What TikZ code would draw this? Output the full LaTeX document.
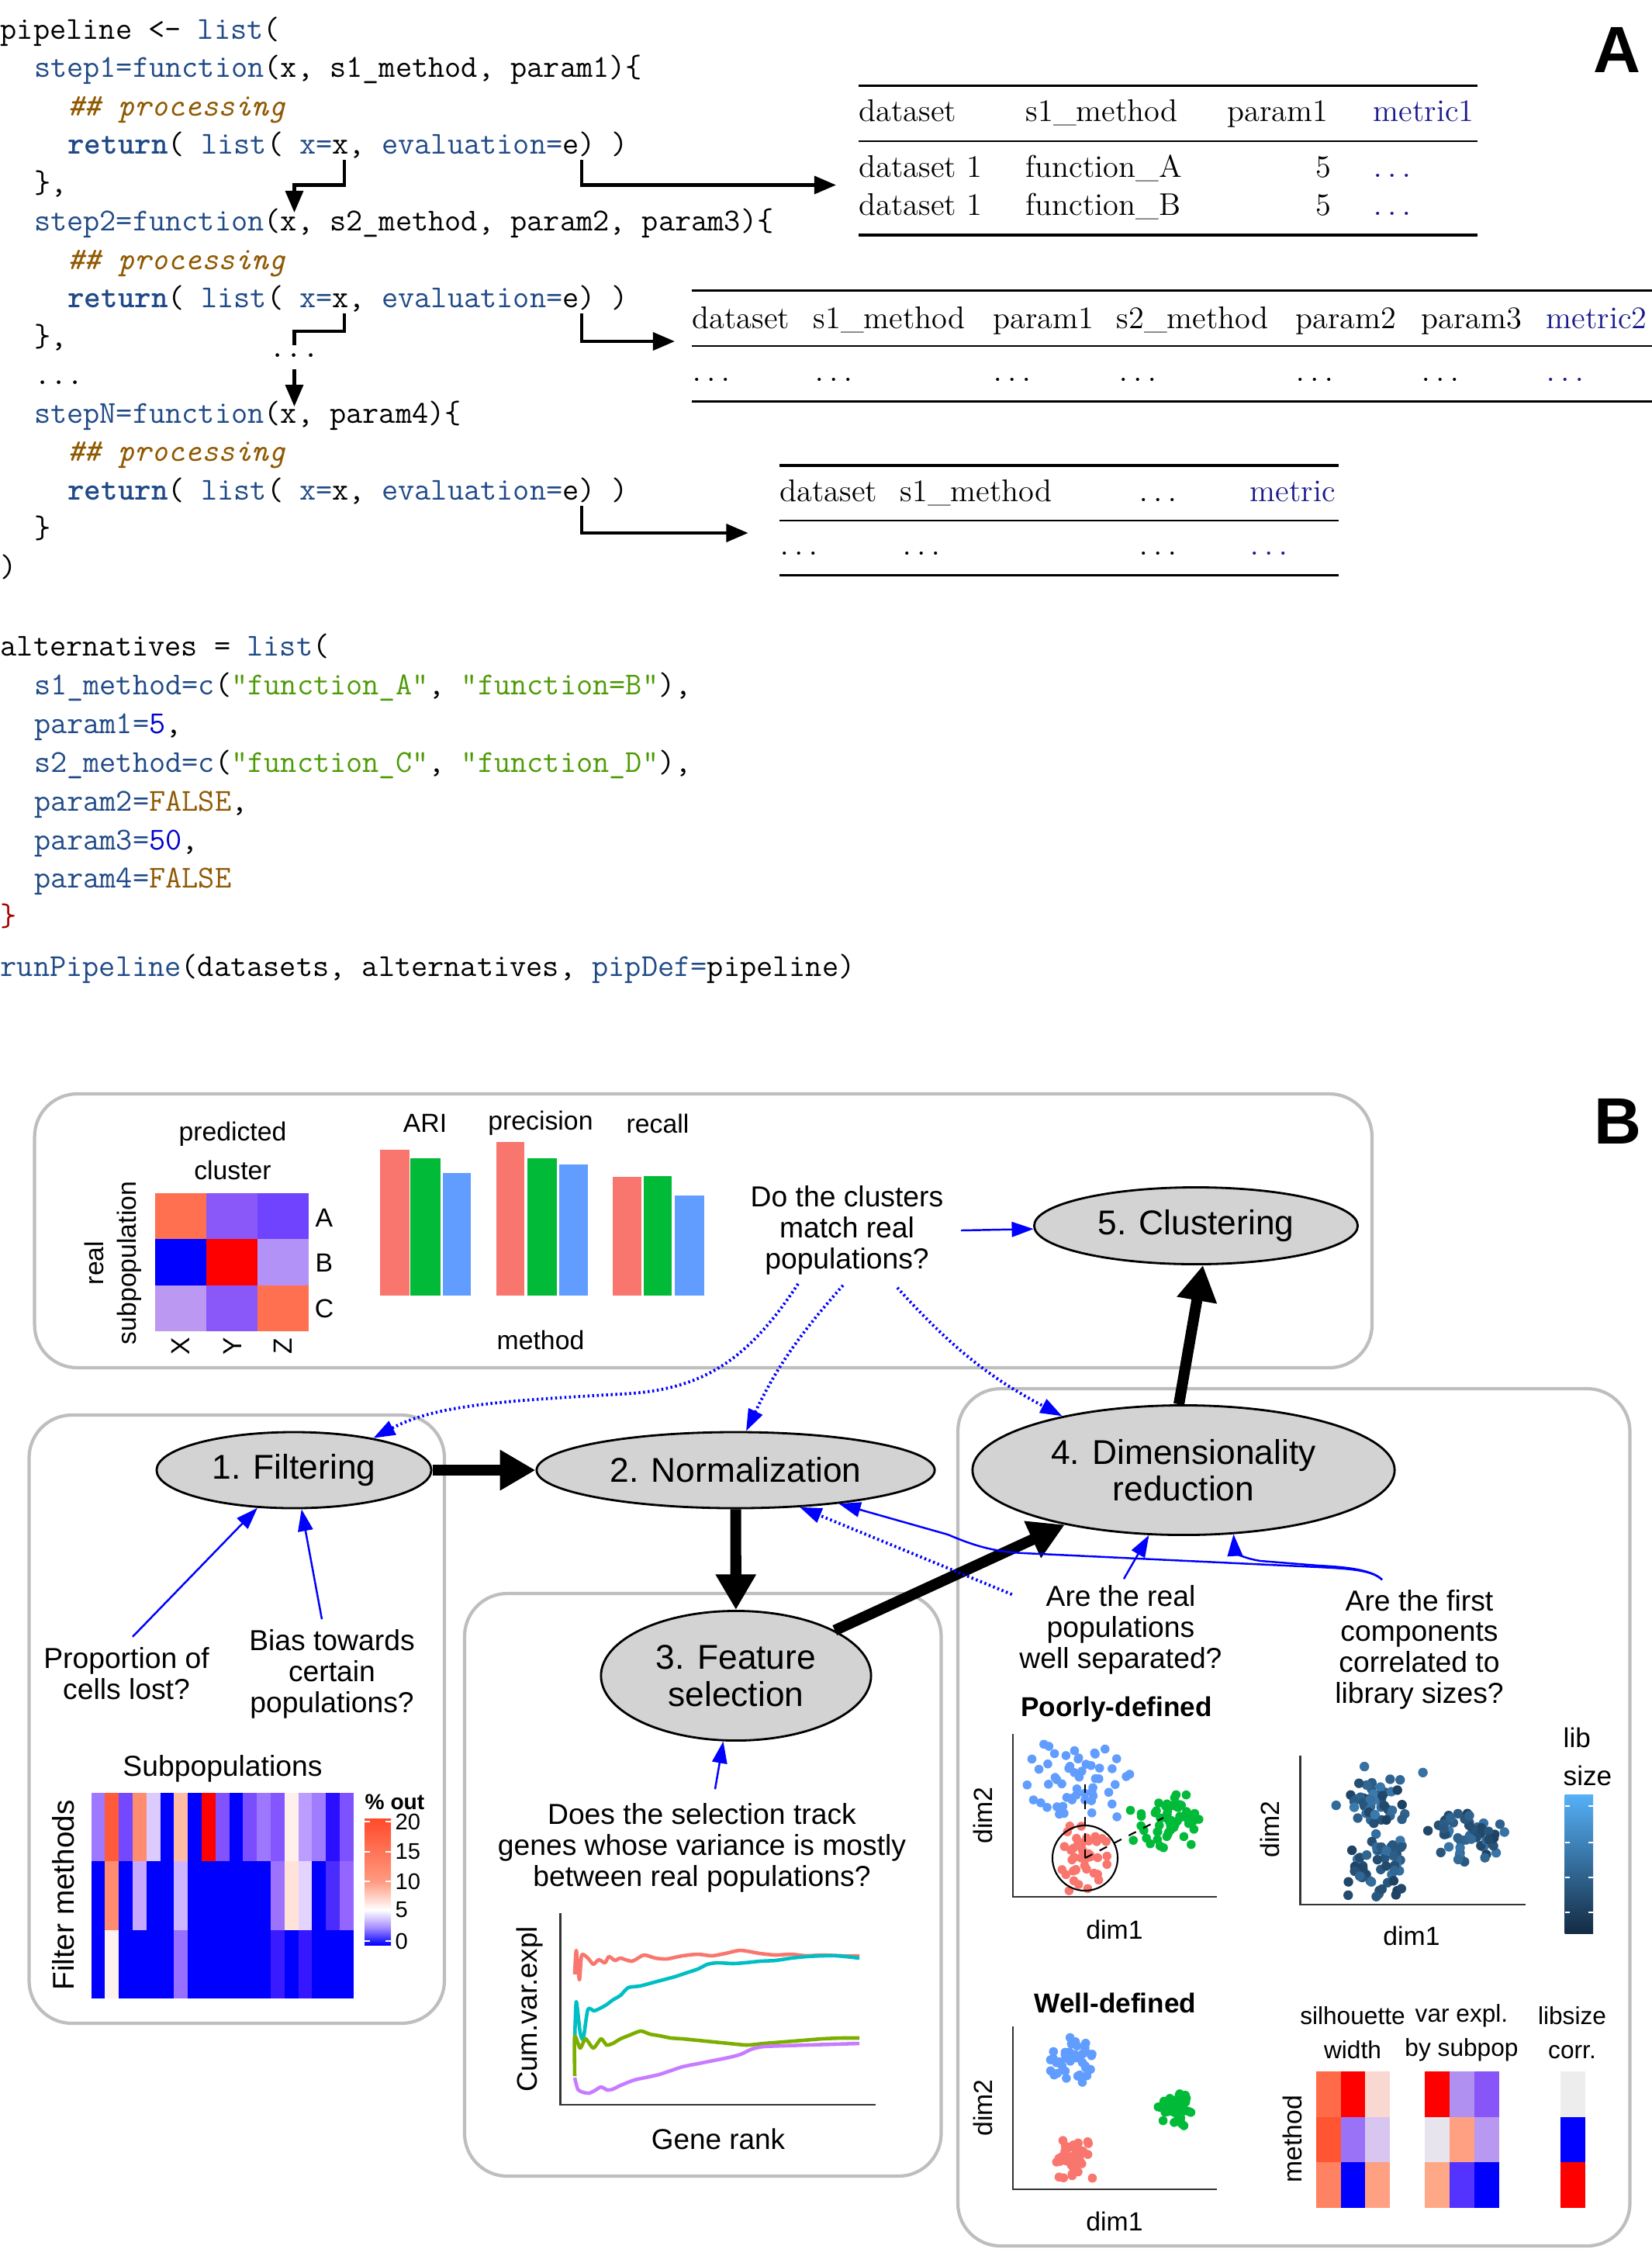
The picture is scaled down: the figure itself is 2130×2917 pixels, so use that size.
\documentclass[tikz,border=0pt]{standalone}
\usepackage{fontspec}
\usepackage{xcolor}
\usetikzlibrary{arrows.meta,shapes.geometric}

\newfontfamily\sansB{Liberation Sans}
\newcommand\codefont{\ttfamily\fontsize{11.7}{14}\selectfont}
\newcommand\tabfont{\rmfamily\fontsize{11.5}{14}\selectfont}
\newcommand\qfont{\sansB\fontsize{10.6}{11.3}\selectfont}
\newcommand\plotfont{\sansB\fontsize{9.6}{14.2}\selectfont}
\newcommand\tdots{\(\ldots\)}

\definecolor{kw}{HTML}{204A87}
\definecolor{cmt}{HTML}{8F5902}
\definecolor{str}{HTML}{4E9A06}
\definecolor{num}{HTML}{0000CF}
\definecolor{brc}{HTML}{A40000}
\definecolor{metric}{HTML}{1A1A8C}
\definecolor{boxgray}{HTML}{BEBEBE}
\definecolor{stepfill}{HTML}{D3D3D3}
\definecolor{ggred}{HTML}{F8766D}
\definecolor{gggreen}{HTML}{00BA38}
\definecolor{ggblue}{HTML}{619CFF}
\definecolor{ggcyan}{HTML}{00BFC4}
\definecolor{ggolive}{HTML}{7CAE00}
\definecolor{ggpurple}{HTML}{C77CFF}
\definecolor{libdark}{HTML}{132B43}
\definecolor{liblight}{HTML}{56B1F7}
\definecolor{cbhigh}{HTML}{FF4A2A}
\definecolor{cblow}{HTML}{FF9A80}
\definecolor{cbmid}{HTML}{A890FF}

\begin{document}
\begin{tikzpicture}[x=0.01cm, y=-0.01cm,
    code/.style={anchor=base west, inner sep=0pt, font=\codefont},
    tabtext/.style={anchor=base west, inner sep=0pt, font=\tabfont},
    codeflow/.style={line width=1.2pt, -{Triangle[length=8pt,width=6.5pt]}},
    heavyrule/.style={line width=0.9pt},
    lightrule/.style={line width=0.55pt},
    panelbox/.style={draw=boxgray, line width=1.2pt, rounded corners=0.55cm},
    stepnode/.style={ellipse, draw, fill=stepfill, line width=0.8pt, inner sep=0pt, align=center, font=\sansB\fontsize{12.6}{13.5}\selectfont},
    stepflow/.style={line width=4pt, -{Triangle[length=13pt,width=14pt]}},
    question/.style={inner sep=0pt, align=center, font=\qfont},
    qarrow/.style={blue, line width=0.7pt, -{Triangle[length=8pt,width=5.5pt]}},
    qdots/.style={qarrow, densely dotted, line width=1.1pt},
    plotlabel/.style={inner sep=0pt, align=center, font=\plotfont},
    axis/.style={draw=black!80, line width=0.8pt},
    curve/.style={line width=1.3pt, line join=round},
    panellabel/.style={inner sep=0pt, font=\sansB\bfseries\fontsize{24}{24}\selectfont}
  ]
  \useasboundingbox (0,0) rectangle (2130,2917);

  \node[code] (l1) at (0,50) {pipeline <- \textcolor{kw}{list}(};
  \node[code] (l2) at (43.3,99.5) {\textcolor{kw}{step1=function}(x, s1\_method, param1)\{};
  \node[code] (l3) at (86.6,149) {\textcolor{cmt}{\itshape\#\# processing}};
  \node[code] (l4) at (86.6,198.5) {\textcolor{kw}{\bfseries return}( \textcolor{kw}{list}( \textcolor{kw}{x=}x, \textcolor{kw}{evaluation=}e) )};
  \node[code] (l5) at (43.3,248) {\},};
  \node[code] (l6) at (43.3,297.5) {\textcolor{kw}{step2=function}(x, s2\_method, param2, param3)\{};
  \node[code] (l7) at (86.6,347) {\textcolor{cmt}{\itshape\#\# processing}};
  \node[code] (l8) at (86.6,396.5) {\textcolor{kw}{\bfseries return}( \textcolor{kw}{list}( \textcolor{kw}{x=}x, \textcolor{kw}{evaluation=}e) )};
  \node[code] (l9) at (43.3,446) {\},};
  \node[code] (l10) at (43.3,495.5) {...};
  \node[code] (l11) at (43.3,545) {\textcolor{kw}{stepN=function}(x, param4)\{};
  \node[code] (l12) at (86.6,594.5) {\textcolor{cmt}{\itshape\#\# processing}};
  \node[code] (l13) at (86.6,644) {\textcolor{kw}{\bfseries return}( \textcolor{kw}{list}( \textcolor{kw}{x=}x, \textcolor{kw}{evaluation=}e) )};
  \node[code] (l14) at (43.3,693.5) {\}};
  \node[code] (l15) at (0,743) {)};
  \node[code] (l16) at (0,845) {alternatives = \textcolor{kw}{list}(};
  \node[code] (l17) at (43.3,895) {\textcolor{kw}{s1\_method=c}(\textcolor{str}{"function\_A"}, \textcolor{str}{"function=B"}),};
  \node[code] (l18) at (43.3,945) {\textcolor{kw}{param1=}\textcolor{num}{5},};
  \node[code] (l19) at (43.3,995) {\textcolor{kw}{s2\_method=c}(\textcolor{str}{"function\_C"}, \textcolor{str}{"function\_D"}),};
  \node[code] (l20) at (43.3,1045) {\textcolor{kw}{param2=}\textcolor{cmt}{FALSE},};
  \node[code] (l21) at (43.3,1095) {\textcolor{kw}{param3=}\textcolor{num}{50},};
  \node[code] (l22) at (43.3,1144) {\textcolor{kw}{param4=}\textcolor{cmt}{FALSE}};
  \node[code] (l23) at (0,1193) {\textcolor{brc}{\}}};
  \node[code] (l24) at (0,1258) {\textcolor{kw}{runPipeline}(datasets, alternatives, \textcolor{kw}{pipDef=}pipeline)};

  \coordinate (xa) at (444,206);
  \coordinate (xb) at (379.5,274);
  \coordinate (ea) at (750,206);
  \coordinate (ta) at (1078,238.5);
  \coordinate (xc) at (444,404);
  \coordinate (xd) at (379.5,524);
  \coordinate (eb) at (750,404);
  \coordinate (tb) at (870,440);
  \coordinate (ec) at (750,652);
  \coordinate (tc) at (964.6,687);
  \node[code, anchor=base] (skip) at (379.5,460) {...};
  \draw[codeflow] (xa) -- (444,238.5) -| (xb);
  \draw[codeflow] (ea) |- (ta);
  \draw[line width=1.2pt] (xc) -- (444,427) -| ([yshift=0.1cm]skip.north);
  \draw[codeflow] ([yshift=-0.15cm]skip.south) -- (xd);
  \draw[codeflow] (eb) |- (tb);
  \draw[codeflow] (ec) |- (tc);

  \draw[heavyrule] (1107,110.5) -- (1905,110.5);
  \draw[lightrule] (1107,182) -- (1905,182);
  \draw[heavyrule] (1107,303) -- (1905,303);
  \foreach \x/\t [count=\i] in {1107/dataset, 1322/s1\_method, 1582/param1, 1770/\textcolor{metric}{metric1}}
    \node[tabtext] (ha\i) at (\x,156) {\t};
  \foreach \y/\t [count=\i] in {228/A, 277.6/B} {
    \node[tabtext] (ra\i) at (1107,\y) {dataset 1};
    \node[tabtext] (fa\i) at (1322,\y) {function\_\t};
    \node[tabtext, anchor=base east] (pa\i) at (1717,\y) {5};
    \node[tabtext] (ma\i) at (1770,\y) {\textcolor{metric}{\tdots}};
  }

  \draw[heavyrule] (892,374.7) -- (2130,374.7);
  \draw[lightrule] (892,446) -- (2130,446);
  \draw[heavyrule] (892,517.7) -- (2130,517.7);
  \foreach \x/\t [count=\i] in {892/dataset, 1048/s1\_method, 1280/param1, 1439/s2\_method, 1670/param2, 1832/param3, 1993/\textcolor{metric}{metric2}}
    \node[tabtext] (hb\i) at (\x,423) {\t};
  \foreach \x/\t [count=\i] in {892/\tdots, 1050/\tdots, 1280/\tdots, 1442/\tdots, 1670/\tdots, 1832/\tdots, 1993/\textcolor{metric}{\tdots}}
    \node[tabtext] (rb\i) at (\x,491) {\t};

  \draw[heavyrule] (1005,600) -- (1726,600);
  \draw[lightrule] (1005,671) -- (1726,671);
  \draw[heavyrule] (1005,741.6) -- (1726,741.6);
  \foreach \x/\t [count=\i] in {1005/dataset, 1160/s1\_method, 1468/\tdots, 1611/\textcolor{metric}{metric}}
    \node[tabtext] (hc\i) at (\x,646) {\t};
  \foreach \x/\t [count=\i] in {1005/\tdots, 1163/\tdots, 1468/\tdots, 1611/\textcolor{metric}{\tdots}}
    \node[tabtext] (rc\i) at (\x,715) {\t};

  \node[panellabel] (labA) at (2085,64) {A};
  \node[panellabel] (labB) at (2086,1445) {B};

  \draw[panelbox] (44.6,1410) rectangle (1769,1763);
  \draw[panelbox] (37.5,1824) rectangle (573,2608);
  \draw[panelbox] (599,2054) rectangle (1213.5,2805);
  \draw[panelbox] (1235,1790) rectangle (2101.5,2895);

  \foreach \a/\b/\c [count=\i from 0] in {FF7050/0000FF/BB98F2, 8A58F8/FF0000/8A58F8, 7044FF/B292F6/FF7050}
    \foreach \h [count=\j from 0] in {\a,\b,\c} {
      \definecolor{cellc}{HTML}{\h}
      \fill[cellc] ({199.6+66*\i},{1538+59.3*\j}) rectangle ++(66,59.3);
    }
  \foreach \t/\y in {A/1570, B/1628, C/1687}
    \node[plotlabel] (row\t) at (418,\y) {\t};
  \foreach \t/\x in {X/233, Y/300, Z/365}
    \node[plotlabel, rotate=90] (col\t) at (\x,1735) {\t};
  \node[plotlabel] (predlab) at (300,1483) {predicted\\cluster};
  \node[plotlabel, rotate=90] (reallab) at (121,1628) {real};
  \node[plotlabel, rotate=90] (subplab) at (167,1628) {subpopulation};

  \foreach \xa/\xb/\yt/\cl in {490/528/1482/ggred, 529/568/1493/gggreen, 571/607/1512/ggblue, 640/676/1472/ggred, 680/718/1493/gggreen, 721/758/1501/ggblue, 790/827/1517/ggred, 830/866/1516/gggreen, 870/908/1541/ggblue}
    \fill[\cl] (\xa,\yt) rectangle (\xb,1670);
  \foreach \t/\x [count=\i] in {ARI/548, precision/697, recall/848}
    \node[plotlabel] (bar\i) at (\x,1448) {\t};
  \node[plotlabel] (methlab) at (697,1727) {method};

  \node[plotlabel, font=\sansB\fontsize{10.6}{12}\selectfont] (sublab) at (287,2280) {Subpopulations};
  \node[plotlabel, rotate=90, font=\sansB\fontsize{11}{12}\selectfont] (filtlab) at (82,2443) {Filter methods};
  \foreach \a/\b/\c [count=\i from 0] in {9E78FF/0000FF/0000FF, FF5A3C/FF8C6E/FFF2EE, 7348FF/0000FF/0000FF, FF8C6E/C6A8FF/0000FF, DCCBFF/0000FF/0000FF, 0000FF/0000FF/0000FF, FFBBA3/CDB5FF/9870FF, 0000FF/0000FF/0000FF, FF0000/0000FF/0000FF, 8252FF/0000FF/0000FF, 0000FF/0000FF/0000FF, 7A4DFF/0000FF/0000FF, 9D78FF/0000FF/0000FF, 8456FF/9C72FF/3A1AFF, FFF0EB/FFE3D9/0000FF, BB9CFF/E2D4FF/3518FF, A07CFF/0000FF/0000FF, 2A10FF/4A2CFF/0000FF, 7E52FF/9566FF/0000FF}
    \foreach \h [count=\j from 0] in {\a,\b,\c} {
      \definecolor{cellc}{HTML}{\h}
      \fill[cellc] ({117.5+17.8*\i},{2311+88.4*\j}) rectangle ++(17.8,88.4);
    }
  \node[plotlabel, font=\sansB\bfseries\fontsize{8}{9}\selectfont] (pctlab) at (509,2323) {\% out};
  \shade[top color=cbhigh, bottom color=cblow] (470,2344) rectangle (504,2425);
  \shade[top color=cblow, bottom color=white] (470,2425) rectangle (504,2462);
  \shade[top color=white, bottom color=cbmid] (470,2462) rectangle (504,2484);
  \shade[top color=cbmid, bottom color=blue] (470,2484) rectangle (504,2507);
  \foreach \t/\y in {20/2348, 15/2387, 10/2425, 5/2462, 0/2502} {
    \draw[white, line width=0.6pt] (470,\y) -- (477,\y) (497,\y) -- (504,\y);
    \node[plotlabel, anchor=west, font=\sansB\fontsize{8.3}{9}\selectfont] (pct\t) at (509,\y) {\t};
  }

  \draw[axis] (722.7,2466) -- (722.7,2713) -- (1129,2713);
  \node[plotlabel, rotate=90, font=\sansB\fontsize{10.4}{12}\selectfont] (cumlab) at (683,2590) {Cum.var.expl};
  \node[plotlabel, font=\sansB\fontsize{10.5}{12}\selectfont] (ranklab) at (926,2757) {Gene rank};
  \draw[ggred, curve] plot[smooth, tension=0.4] coordinates {(741,2545) (743,2514) (747,2552) (750,2520) (758,2524) (765,2532) (772,2526) (780,2530) (785,2522) (793,2527) (800,2524) (815,2528) (830,2520) (845,2524) (860,2525) (880,2521) (900,2519) (918,2521) (935,2518) (955,2514) (980,2518) (1000,2520) (1020,2519) (1040,2521) (1060,2520) (1085,2521) (1108,2521)};
  \draw[ggcyan, curve] plot[smooth, tension=0.4] coordinates {(741,2630) (743,2580) (748,2620) (752,2628) (758,2590) (766,2592) (775,2588) (782,2584) (790,2578) (800,2572) (810,2562) (825,2560) (840,2556) (855,2552) (870,2548) (885,2543) (900,2538) (912,2532) (925,2530) (945,2531) (960,2530) (980,2528) (1000,2527) (1020,2524) (1040,2522) (1060,2521) (1080,2521) (1108,2524)};
  \draw[ggolive, curve] plot[smooth, tension=0.4] coordinates {(741,2676) (741,2625) (748,2640) (755,2628) (765,2640) (775,2628) (782,2636) (790,2634) (800,2628) (810,2624) (826,2618) (838,2622) (850,2624) (865,2627) (880,2628) (900,2630) (920,2632) (940,2634) (963,2636) (985,2634) (1010,2632) (1035,2630) (1060,2628) (1085,2627) (1108,2627)};
  \draw[ggpurple, curve] plot[smooth, tension=0.4] coordinates {(741,2678) (745,2693) (752,2697) (760,2698) (768,2694) (775,2690) (783,2694) (790,2693) (798,2689) (805,2686) (818,2681) (832,2678) (850,2674) (865,2669) (880,2664) (900,2660) (920,2656) (940,2652) (955,2648) (970,2641) (985,2638) (1010,2637) (1040,2636) (1075,2635) (1108,2634)};

  \pgfmathsetseed{42}
  \node[plotlabel, font=\sansB\bfseries\fontsize{10}{12}\selectfont] (poorlab) at (1439.5,2203) {Poorly-defined};
  \draw[axis] (1306,2235) -- (1306,2445) -- (1569,2445);
  \node[plotlabel, rotate=90] (pdim2) at (1267,2340) {dim2};
  \node[plotlabel] (pdim1) at (1437,2487) {dim1};
  \foreach \i in {1,...,55}
    \fill[ggblue] ({1391+36*(rand+rand)},{2297+28*(rand+rand)}) circle (0.058cm);
  \foreach \i in {1,...,55}
    \fill[gggreen] ({1505+26*(rand+rand)},{2347+21*(rand+rand)}) circle (0.058cm);
  \foreach \i in {1,...,45}
    \fill[ggred] ({1396+23*(rand+rand)},{2393+25*(rand+rand)}) circle (0.058cm);
  \draw[line width=0.6pt] (1399,2395) circle (0.42cm);
  \draw[dashed, line width=0.6pt] (1399,2395) -- (1399,2297);
  \draw[dashed, line width=0.6pt] (1399,2395) -- (1500,2343);

  \draw[axis] (1676.6,2263) -- (1676.6,2455) -- (1966.5,2455);
  \node[plotlabel, rotate=90] (ldim2) at (1637.6,2358) {dim2};
  \node[plotlabel] (ldim1) at (1820,2495) {dim1};
  \foreach \cx/\cy/\sx/\sy/\n in {1772/2318/20/19/40, 1782/2405/22/24/45, 1893/2368/28/20/55, 1790/2360/55/50/20}
    \foreach \i in {1,...,\n} {
      \pgfmathsetmacro\p{int(38+22*rand)}
      \fill[liblight!\p!libdark] ({\cx+\sx*(rand+rand)},{\cy+\sy*(rand+rand)}) circle (0.062cm);
    }
  \node[plotlabel, anchor=north west, align=left, font=\sansB\fontsize{10}{14}\selectfont] (liblab) at (2015,2226) {lib\\size};
  \shade[top color=liblight, bottom color=libdark] (2017.6,2313) rectangle (2054,2492);
  \foreach \y in {2328, 2375, 2420, 2465}
    \draw[white, line width=0.6pt] (2017.6,\y) -- (2024,\y) (2048,\y) -- (2054,\y);

  \node[plotlabel, font=\sansB\bfseries\fontsize{10}{12}\selectfont] (welllab) at (1438,2582) {Well-defined};
  \draw[axis] (1306,2612) -- (1306,2822) -- (1569,2822);
  \node[plotlabel, rotate=90] (wdim2) at (1267,2717) {dim2};
  \node[plotlabel] (wdim1) at (1437,2863) {dim1};
  \foreach \i in {1,...,45}
    \fill[ggblue] ({1382+17*(rand+rand)},{2653+16*(rand+rand)}) circle (0.058cm);
  \foreach \i in {1,...,50}
    \fill[gggreen] ({1517+15*(rand+rand)},{2718+14*(rand+rand)}) circle (0.058cm);
  \foreach \i in {1,...,40}
    \fill[ggred] ({1385+13*(rand+rand)},{2783+16*(rand+rand)}) circle (0.058cm);

  \node[plotlabel, font=\sansB\fontsize{9}{12.5}\selectfont] (silab) at (1744,2620) {silhouette\\width};
  \node[plotlabel, font=\sansB\fontsize{9}{12.5}\selectfont] (varlab) at (1884.5,2620) {var expl.\\by subpop};
  \node[plotlabel, font=\sansB\fontsize{9}{12.5}\selectfont] (corlab) at (2027,2620) {libsize\\corr.};
  \node[plotlabel, rotate=90] (hmlab) at (1666,2757) {method};
  \foreach \x/\a/\b/\c in {1696.7/FF6A48/FF5533/FF8262, 1728.5/FF0000/9A72F8/0000FF, 1760.3/F8D8D0/D8C6F0/FFA082, 1837/FF0000/E8E4EE/FFA888, 1869/B090F0/FFA082/5533FF, 1901/8855F8/B898F0/0000FF, 2012/EDEDED/0000FF/FF0000}
    \foreach \h [count=\j from 0] in {\a,\b,\c} {
      \definecolor{cellc}{HTML}{\h}
      \fill[cellc] ({\x},{2670+58.7*\j}) rectangle ++(31.8,58.7);
    }

  \node[stepnode, minimum width=3.54cm, minimum height=0.98cm] (filt) at (379,1895) {1. Filtering};
  \node[stepnode, minimum width=5.13cm, minimum height=0.98cm] (norm) at (948.5,1895) {2. Normalization};
  \node[stepnode, minimum width=3.48cm, minimum height=1.67cm] (feat) at (949,2160) {3. Feature\\selection};
  \node[stepnode, minimum width=5.44cm, minimum height=1.67cm] (dimr) at (1526,1895) {4. Dimensionality\\reduction};
  \node[stepnode, minimum width=4.17cm, minimum height=0.99cm] (clus) at (1542,1580) {5. Clustering};

  \draw[stepflow] (filt) -- (norm);
  \draw[stepflow] (norm) -- (feat);
  \draw[stepflow] (feat) -- (dimr);
  \draw[stepflow] ([shift={(-6,0)}]dimr.north) -- ([shift={(9,0)}]clus.south);

  \node[question] (qclust) at (1092,1586) {Do the clusters\\match real\\populations?};
  \node[question] (qprop) at (163,2157) {Proportion of\\cells lost?};
  \node[question] (qbias) at (428,2158) {Bias towards\\certain\\populations?};
  \node[question] (qfeat) at (905,2382) {Does the selection track\\genes whose variance is mostly\\between real populations?};
  \node[question] (qsep) at (1445,2101) {Are the real\\populations\\well separated?};
  \node[question] (qlib) at (1830,2126) {Are the first\\components\\correlated to\\library sizes?};

  \draw[qarrow] ([xshift=0.22cm]qclust.east) -- (clus);
  \draw[qarrow] ([shift={(8,-13)}]qprop.north) -- (filt.226);
  \draw[qarrow] ([shift={(-13,-13)}]qbias.north) -- (filt.281);
  \draw[qarrow] ([shift={(17,-18)}]qfeat.north) -- (feat.259);
  \draw[qarrow] ([shift={(4,-8)}]qsep.north) -- (dimr.242);
  \draw[qdots] ([shift={(-63,11)}]qclust.south) .. controls (960,1760) and (900,1792) .. (800,1797) .. controls (640,1806) and (560,1812) .. (filt.22);
  \draw[qdots] ([shift={(-5,13)}]qclust.south) to[bend right=8] (norm.75);
  \draw[qdots] ([shift={(65,16)}]qclust.south) to[bend right=10] (dimr.156);
  \draw[qdots] ([shift={(-9,12)}]qsep.north west) -- (norm.330);
  \draw[qarrow] ([shift={(-48,-12)}]qlib.north) .. controls (1770,2024) and (1740,2022) .. (1700,2020) -- (1320,2002) .. controls (1280,2000) and (1255,1992) .. (1222,1978) -- (norm.342);
  \draw[qarrow] ([shift={(-48,-12)}]qlib.north) .. controls (1770,2024) and (1740,2020) .. (1700,2018) -- (1625,2012) .. controls (1600,2008) and (1592,2000) .. (dimr.308);
\end{tikzpicture}
\end{document}
